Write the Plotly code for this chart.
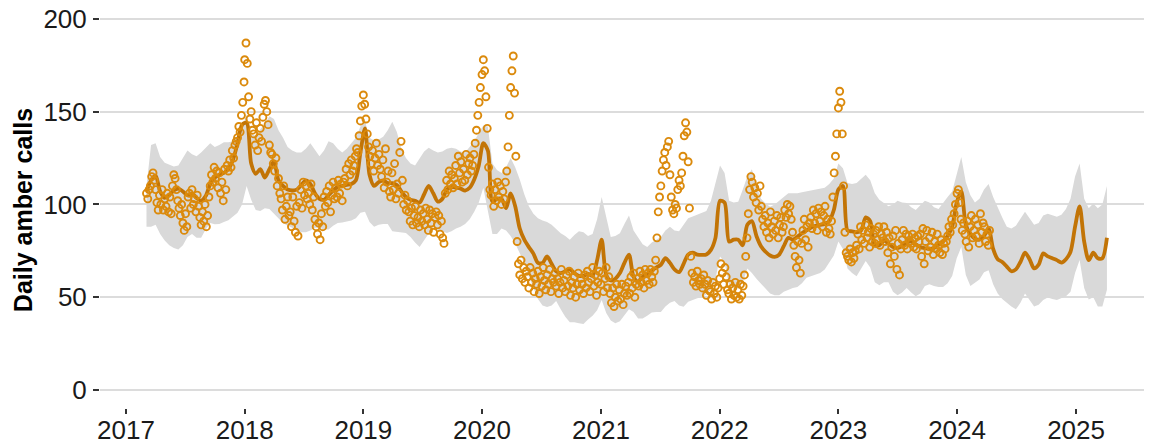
import pandas as pd
import plotly.graph_objects as go

# ---------------- model fit + ribbon (14-day grid) ----------------
fit_start = "2017-03-05"
fit_step_days = 14
fit_values = [
    107, 113, 115.5, 107, 103.5, 105, 107.5, 108.5, 107, 105,
    106, 103.5, 102, 104.5, 111, 114.5, 116, 117, 119, 124,
    133, 143, 144, 122, 116.5, 119, 114.5, 119, 123, 113,
    110, 108, 107.5, 108, 110.5, 113, 111, 106, 103, 102.5,
    105, 107.5, 109.5, 110, 110.5, 111, 113, 128, 141, 116,
    110, 112, 113, 111.5, 111.5, 110.5, 107, 104, 102.5, 102,
    101, 105.5, 110, 106, 101.5, 103, 108, 109.5, 109, 108.5,
    107.5, 109, 113.5, 121, 133, 129, 101.5, 103, 103, 98,
    106, 99, 87, 81, 77, 73.5, 68.5, 68.5, 72, 68,
    64, 63, 64, 65, 63, 61.5, 61.5, 62.5, 61.5, 70,
    81, 62, 59, 60, 63, 68.5, 73, 61, 58.5, 61,
    62.5, 64.5, 66, 67.5, 71, 68.5, 65, 63.5, 68, 73,
    74, 73, 72.8, 73, 75.5, 82, 102, 101, 80, 81,
    81, 78, 89, 91, 83, 77.5, 74.5, 72.5, 71.7, 73,
    77.5, 82, 81, 82.5, 84.5, 86, 87.5, 88.5, 89, 89.5,
    91, 97, 108, 110, 86, 85.5, 85, 86, 93, 91,
    78, 78, 80.5, 79, 77, 76.5, 77.5, 79.5, 80, 78.5,
    77, 76.5, 76, 76.5, 78.5, 80, 83, 88, 101, 107,
    89, 84, 81.5, 81, 83, 87, 76, 70.5, 69, 66.5,
    64, 65, 69, 74, 70.5, 65.5, 67.5, 73.6, 72, 71,
    70, 68.7, 70.5, 74.5, 88, 99, 80, 70, 74, 71,
    71, 82,
]
upper_values = [
    110, 132, 133, 125.5, 122.5, 121.5, 120.5, 121, 125, 129,
    127, 126, 128, 130.5, 133, 131, 132, 133.5, 133.5, 134,
    137, 142, 148.5, 138, 137, 140.5, 143.5, 147.5, 146, 140,
    136, 131, 129, 128, 128, 130, 133, 129.5, 126, 129,
    134, 133, 130, 128, 130, 133, 136, 142, 145, 136,
    134.5, 135, 136.5, 140, 144.5, 139, 130, 125, 122, 121,
    124.5, 128.5, 130.5, 129, 128, 128.5, 130, 130.5, 130, 128.5,
    128, 131, 134, 138.5, 142.5, 142, 122, 118.5, 117, 120,
    125, 120, 113.5, 105.5, 99, 95, 92.5, 91.3, 90.5, 89,
    86.5, 84.5, 83, 81, 83.5, 85.5, 85, 83, 84, 92,
    104, 93, 82.5, 83, 84.5, 89.5, 94, 86, 82, 78.5,
    77, 79.5, 81, 82.5, 86, 88, 86, 85.5, 89, 92.5,
    93.5, 94.5, 95.5, 96.5, 102, 112, 121, 117, 102, 101,
    101.5, 108, 115, 119, 110, 103, 100.5, 98.7, 100, 102,
    104, 106, 106, 106, 106.5, 107, 107.5, 108, 108.5, 109,
    111, 114, 122, 119.5, 111.5, 111, 111.5, 113.5, 116, 113,
    106, 102.5, 100.5, 99, 100, 102, 101, 100.8, 98.5, 97,
    99.5, 102, 101, 98.5, 97.5, 101, 104, 107, 117, 125.5,
    112, 105, 101, 103, 108, 111, 104, 98, 93, 88,
    87, 88.5, 92, 96, 92.5, 89, 90, 94, 95, 94,
    93.3, 94.5, 97.5, 103, 115, 122, 103, 98, 100.5, 98,
    100, 110,
]
lower_values = [
    88, 88, 89, 84, 80.5, 78, 76.5, 75.7, 78, 82.5,
    84, 82, 82, 86.5, 90, 89.3, 89.5, 90.5, 91.5, 93.5,
    95.5, 100, 110, 102.5, 97, 96.5, 98, 97.5, 95, 92.5,
    90, 88.5, 87.5, 86, 85, 85, 86, 87.5, 87.5, 86.5,
    86.5, 88.5, 90, 90.3, 90.7, 91.3, 92.5, 95.5, 96, 90.5,
    88, 89, 89.5, 89.5, 85.5, 85, 84.8, 84.6, 82.5, 79.5,
    77, 80.5, 84.5, 88, 86.5, 85.5, 84.6, 85.5, 87, 88,
    89.5, 92, 96, 101, 109, 96, 84, 84, 87, 86,
    83, 79, 74, 68.5, 61, 55, 49, 45.5, 44.7, 45.5,
    48, 43.5, 39.5, 36.5, 36.5, 36, 35.5, 38, 40, 43,
    48.5, 41.5, 37.5, 36, 37, 40, 43.5, 42, 38.5, 38.5,
    40, 41.7, 42, 42, 45, 47, 48, 45.5, 44.8, 47.5,
    48.7, 49.5, 50, 51.5, 54, 60, 72, 69, 56, 55,
    54.5, 58, 65.5, 63, 60, 57, 54.5, 52, 51, 51,
    53, 54.2, 55, 55.5, 57.5, 60.5, 61.5, 62.3, 63, 65,
    68.5, 72.5, 80, 76, 65.5, 63, 61.3, 65, 69.5, 66,
    58, 56.5, 58, 58, 53, 51, 52.5, 55, 52.5, 50.5,
    52, 56, 57, 56, 55.5, 55.5, 57.5, 61.5, 71, 77,
    62, 56, 57.7, 59.5, 63.5, 64.5, 57, 52, 49, 47,
    45, 43.5, 47, 52, 48.5, 45, 46, 48.5, 49.8, 49,
    48.5, 49.5, 50.5, 53, 63, 70, 55, 48.8, 50, 45,
    45, 54,
]

# ---------------- observed daily amber calls (4-day grid) ----------------
obs_step_days = 4
obs_starts = ["2017-03-05", "2018-01-01", "2019-01-01", "2020-01-01",
              "2021-01-01", "2022-01-01", "2023-01-01", "2024-01-01"]
obs_2017 = [106, 103, 108, 110, 115, 117, 113, 108, 101, 97, 105, 100, 108, 97,
            103, 99, 106, 96, 104, 95, 110, 116, 114, 108, 102, 98, 94, 100,
            90, 86, 95, 88, 104, 106, 98, 108, 100, 103, 96, 105, 99, 93,
            89, 96, 91, 100, 88, 94, 104, 110, 116, 112, 120, 114, 118, 109,
            117, 106, 112, 102, 119, 108, 121, 118, 124, 120, 129, 125, 132, 134,
            136, 142, 139, 148, 155, 166]
obs_2018 = [178, 187, 176, 158, 146, 150, 140, 138, 132, 144, 129, 136, 141, 134,
            147, 154, 156, 150, 143, 132, 128, 127, 122, 118, 125, 110, 114, 106,
            103, 97, 110, 92, 99, 104, 94, 96, 88, 104, 91, 85, 99, 83,
            101, 108, 98, 112, 105, 110, 103, 106, 100, 111, 97, 104, 92, 88,
            84, 90, 81, 95, 88, 104, 99, 107, 101, 110, 96, 105, 112, 103,
            109, 104, 113, 106, 111, 102, 112, 114, 119, 110, 122, 116, 124, 118,
            121, 126, 130, 128, 137, 145, 153]
obs_2019 = [159, 154, 146, 138, 131, 126, 122, 129, 118, 125, 133, 121, 127, 119,
            115, 124, 109, 130, 112, 118, 107, 104, 117, 108, 122, 103, 111, 106,
            128, 134, 113, 100, 105, 97, 102, 96, 91, 98, 89, 94, 99, 90,
            93, 88, 97, 91, 95, 89, 98, 92, 86, 97, 90, 95, 85, 93,
            96, 89, 94, 84, 91, 82, 79, 106, 113, 108, 118, 111, 116, 109,
            114, 121, 111, 126, 117, 123, 112, 119, 113, 127, 116, 122, 125, 118,
            121, 127, 133, 140, 148, 155, 163]
obs_2020 = [170, 178, 172, 158, 141, 120, 108, 105, 111, 99, 108, 102, 112, 104,
            110, 100, 107, 103, 112, 118, 131, 148, 163, 172, 180, 160, 126, 80,
            68, 62, 70, 60, 66, 58, 64, 61, 55, 66, 58, 63, 53, 60,
            57, 64, 52, 61, 56, 66, 59, 54, 62, 57, 65, 53, 60, 58,
            63, 56, 60, 52, 58, 65, 55, 59, 53, 62, 56, 64, 51, 58,
            55, 61, 50, 57, 63, 54, 60, 57, 52, 62, 55, 64, 58, 53,
            60, 66, 56, 62, 51, 58, 64]
obs_2021 = [57, 63, 53, 60, 66, 55, 61, 52, 47, 55, 45, 50, 57, 48,
            54, 49, 57, 46, 52, 56, 51, 58, 52, 61, 55, 63, 50, 57,
            60, 56, 64, 58, 62, 55, 65, 59, 63, 57, 65, 61, 58, 64,
            70, 82, 96, 104, 110, 118, 124, 128, 121, 131, 134, 116, 104, 97,
            95, 100, 98, 108, 113, 110, 117, 126, 137, 144, 139, 123, 98, 72,
            63, 58, 61, 56, 64, 59, 57, 60, 55, 62, 57, 51, 59, 54,
            53, 49, 58, 52, 56, 50, 55]
obs_2022 = [60, 68, 63, 57, 66, 61, 54, 52, 57, 49, 55, 51, 58, 50,
            54, 49, 57, 51, 56, 62, 72, 82, 95, 108, 115, 112, 104, 109,
            101, 106, 97, 110, 99, 92, 88, 94, 85, 90, 82, 96, 88, 84,
            91, 86, 94, 82, 89, 93, 85, 88, 97, 93, 100, 95, 99, 92,
            85, 78, 72, 66, 80, 70, 63, 79, 86, 92, 81, 88, 77, 90,
            93, 87, 97, 90, 95, 86, 98, 91, 96, 88, 94, 99, 85, 92,
            87, 84, 91, 104, 117, 126, 138]
obs_2023 = [152, 161, 155, 138, 110, 85, 74, 72, 70, 76, 69, 74, 71, 75,
            78, 84, 76, 88, 81, 86, 79, 89, 82, 85, 77, 87, 80, 84,
            79, 86, 81, 88, 78, 84, 82, 88, 80, 85, 74, 82, 68, 77,
            83, 72, 86, 65, 79, 62, 76, 81, 86, 78, 84, 76, 83, 80,
            79, 84, 77, 82, 76, 83, 80, 84, 72, 87, 68, 80, 86, 75,
            82, 77, 85, 73, 80, 76, 84, 78, 74, 81, 73, 79, 76, 80,
            83, 88, 85, 92, 89, 95, 100]
obs_2024 = [106, 108, 101, 92, 86, 90, 84, 80, 91, 77, 88, 94, 82, 86,
            92, 83, 89, 79, 95, 85, 90, 88, 80, 84, 78, 86]
obs_years = [obs_2017, obs_2018, obs_2019, obs_2020,
             obs_2021, obs_2022, obs_2023, obs_2024]

y_ticks = [0, 50, 100, 150, 200]
x_tick_years = [2017, 2018, 2019, 2020, 2021, 2022, 2023, 2024, 2025]
y_title = "Daily amber calls"

# ---------------- build ----------------
fit_dates = pd.date_range(fit_start, periods=len(fit_values), freq=f"{fit_step_days}D")
obs_dates, obs_vals = [], []
for start, vals in zip(obs_starts, obs_years):
    obs_dates.extend(pd.date_range(start, periods=len(vals), freq=f"{obs_step_days}D"))
    obs_vals.extend(vals)

FONT = "Liberation Sans, Arial, Helvetica, sans-serif"
RIBBON = "#D9D9D9"
LINE = "#C27406"
POINT = "#DB8A0C"

fig = go.Figure()
fig.add_trace(go.Scatter(
    x=list(fit_dates) + list(fit_dates[::-1]),
    y=upper_values + lower_values[::-1],
    fill="toself", fillcolor=RIBBON, line=dict(width=0, color=RIBBON),
    mode="lines", hoverinfo="skip", showlegend=False,
))
fig.add_trace(go.Scatter(
    x=fit_dates, y=fit_values, mode="lines",
    line=dict(color=LINE, width=3.8, shape="spline", smoothing=0.8),
    showlegend=False,
))
fig.add_trace(go.Scatter(
    x=obs_dates, y=obs_vals, mode="markers",
    marker=dict(symbol="circle-open", size=7, color=POINT, line=dict(width=1.9, color=POINT)),
    showlegend=False,
))

fig.update_layout(
    width=1149, height=445,
    margin=dict(l=100, r=5, t=12, b=37, autoexpand=False),
    paper_bgcolor="white", plot_bgcolor="white",
    font=dict(family=FONT, color="#1a1a1a", size=26),
    showlegend=False,
)
fig.update_xaxes(
    range=["2016-10-13", "2025-07-29"],
    tickmode="array",
    tickvals=[f"{y}-01-01" for y in x_tick_years],
    ticktext=[str(y) for y in x_tick_years],
    showgrid=False, zeroline=False, showline=False, automargin=False,
    ticks="outside", ticklen=5, tickwidth=1.5, tickcolor="#333333",
    ticklabelstandoff=-6,
    tickfont=dict(size=26, family=FONT, color="#1a1a1a"),
)
fig.update_yaxes(
    range=[-9.7, 203.7],
    tickmode="array", tickvals=y_ticks, ticktext=[str(v) for v in y_ticks],
    showgrid=True, gridcolor="#DCDCDC", gridwidth=1.5,
    zeroline=False, showline=False, automargin=False,
    ticks="outside", ticklen=6, tickwidth=1.5, tickcolor="#333333",
    ticklabelstandoff=1,
    tickfont=dict(size=26, family=FONT, color="#1a1a1a"),
    title=dict(text=y_title, standoff=3,
               font=dict(size=25, family=FONT, color="#000000", weight="bold")),
)

fig.write_html(
    "out.html",
    config={"displayModeBar": False},
    post_script="document.body.style.margin='0';document.body.style.overflow='hidden';",
)
